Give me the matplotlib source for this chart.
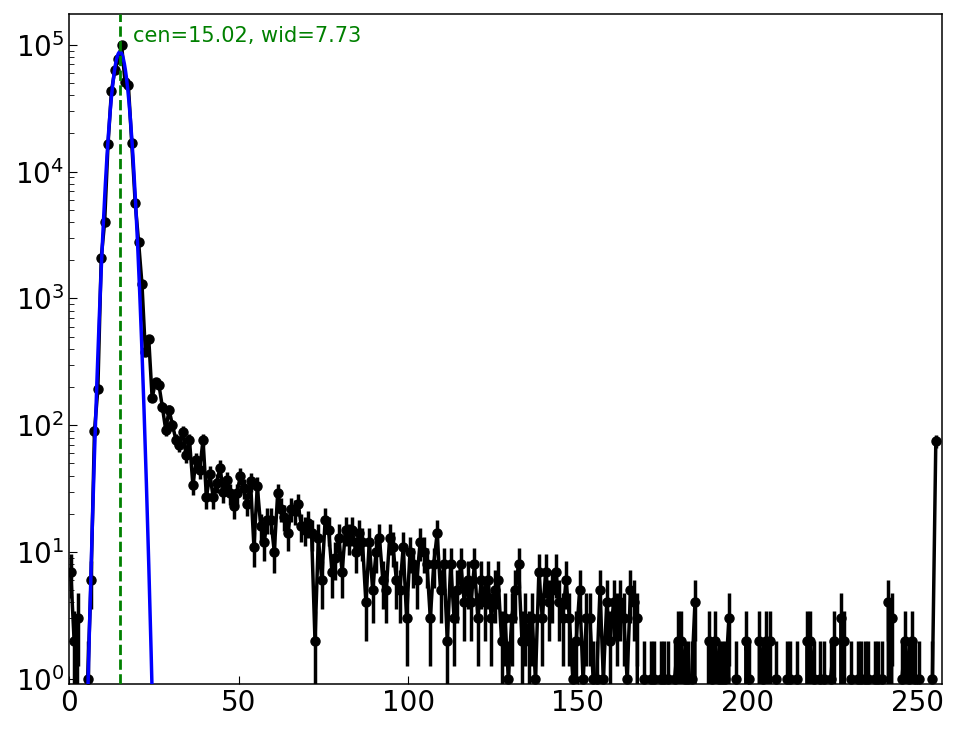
import numpy as np
from matplotlib import pyplot as plt

# counts per channel, channels 0..255
counts_0_23 = [7, 2, 3, 0, 0, 1, 6, 90, 193, 2100, 4000, 16500,
               43000, 63000, 77000, 100000, 51000, 48000, 16800, 5700, 2800, 1300, 380, 480]
counts_24_55 = [164, 221, 208, 140, 92, 132, 100, 77, 70, 89, 58, 77,
                34, 53, 44, 77, 27, 41, 27, 35, 46, 30, 37, 29,
                23, 29, 40, 32, 24, 36, 11, 33]
counts_56_82 = [16, 12, 18, 18, 10, 29, 22, 19, 14, 22, 21, 24,
                16, 15, 17, 14, 2, 13, 6, 18, 15, 7, 9, 13, 7, 15, 13]
counts_83_115 = [15, 10, 14, 12, 4, 12, 5, 10, 13, 6, 5, 13,
                 11, 6, 5, 11, 3, 10, 8, 6, 12, 10, 8, 3,
                 8, 14, 5, 8, 2, 8, 3, 5, 8]
counts_116_146 = [4, 6, 4, 8, 3, 6, 4, 6, 3, 5, 6, 2,
                  3, 1, 3, 5, 8, 2, 3, 2, 3, 1, 7, 3,
                  7, 4, 5, 7, 4, 3, 6]
counts_147_175 = [3, 1, 2, 5, 1, 3, 3, 1, 1, 5, 1, 4,
                  2, 4, 3, 4, 3, 1, 5, 4, 3, 0, 1, 0,
                  1, 1, 0, 1, 1]
counts_176_209 = [1, 0, 1, 2, 2, 1, 1, 1, 4, 0, 0, 0,
                  2, 1, 2, 1, 1, 1, 3, 0, 1, 0, 0, 2,
                  1, 0, 0, 2, 1, 2, 2, 0, 1, 0]
counts_210_255 = [0, 1, 1, 0, 1, 0, 0, 2, 2, 1, 0, 1,
                  1, 0, 1, 2, 0, 3, 2, 0, 1, 0, 1, 1,
                  1, 1, 0, 1, 1, 1, 0, 4, 3, 0, 0, 1,
                  2, 1, 2, 1, 1, 0, 0, 0, 1, 75]

# gaussian fit result
amp = 8.8e4
cen = 15.02
wid = 7.73


def main():
    counts = np.array(counts_0_23 + counts_24_55 + counts_56_82 + counts_83_115 +
                      counts_116_146 + counts_147_175 + counts_176_209 + counts_210_255,
                      dtype=float)
    chan = np.arange(len(counts)) + 0.5
    err = np.sqrt(counts)

    xf = np.linspace(0, 256, 2561)
    yf = amp * np.exp(-(xf - cen) ** 2 / wid)

    fig = plt.figure(figsize=(9.64, 7.29), dpi=100)
    ax = fig.add_axes([0.0716, 0.0617, 0.9055, 0.9191])

    ax.set_yscale('log', nonpositive='clip')
    ax.errorbar(chan, counts, yerr=err, fmt='o-', color='black', ms=6.5,
                lw=2.5, elinewidth=2.5, capsize=0, zorder=2)
    ax.plot(xf, yf, color='blue', lw=2.5, zorder=3)
    ax.axvline(cen, color='green', linestyle='--', lw=2, zorder=4)
    ax.text(cen + 3.7, 1.18e5, f'cen={cen:.2f}, wid={wid:.2f}', color='green',
            fontsize=15, va='center', ha='left')

    ax.set_xlim(0, 257.3)
    ax.set_ylim(0.91, 1.75e5)
    for s in ax.spines.values():
        s.set_linewidth(1.1)
    ax.tick_params(axis='both', which='major', direction='in', length=6,
                   labelsize=20, top=False, right=False)
    ax.tick_params(axis='both', which='minor', direction='in', length=3.5,
                   top=False, right=False)

    fig.savefig('out.png', dpi=100)


if __name__ == "__main__":
    main()
